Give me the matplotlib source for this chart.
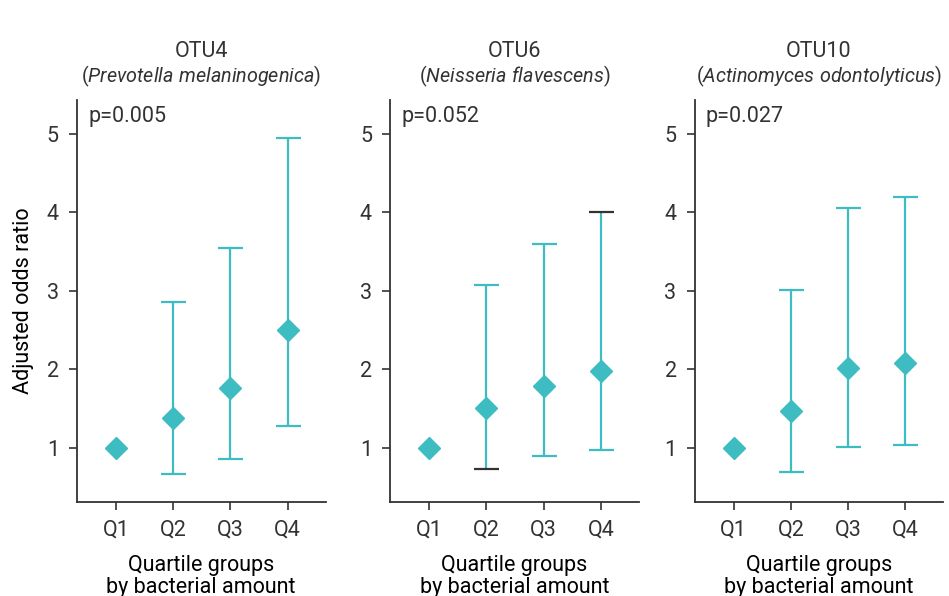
#!/usr/bin/env python3
"""Adjusted odds ratios by quartile of bacterial amount, three OTUs."""

import numpy as np
import matplotlib
matplotlib.use('Agg')
import matplotlib.pyplot as plt


TEAL = '#3dbdc2'
DARK = '#333333'

QUARTILES = ['Q1', 'Q2', 'Q3', 'Q4']
OTUS = ['OTU4', 'OTU6', 'OTU10']
SPECIES = ['Prevotella melaninogenica', 'Neisseria flavescens',
           'Actinomyces odontolyticus']
P_VALUES = ['p=0.005', 'p=0.052', 'p=0.027']

# point estimates and 95% CI bounds (Q1 is the reference group)
OR_OTU4 = [1.0, 1.38, 1.76, 2.50]
LOW_OTU4 = [np.nan, 0.67, 0.86, 1.28]
HIGH_OTU4 = [np.nan, 2.86, 3.55, 4.95]

OR_OTU6 = [1.0, 1.50, 1.79, 1.98]
LOW_OTU6 = [np.nan, 0.73, 0.89, 0.97]
HIGH_OTU6 = [np.nan, 3.08, 3.59, 4.01]

OR_OTU10 = [1.0, 1.47, 2.02, 2.08]
LOW_OTU10 = [np.nan, 0.69, 1.01, 1.03]
HIGH_OTU10 = [np.nan, 3.01, 4.06, 4.20]

# caps that are drawn dark in the original: (panel, quartile, 'lower'/'upper')
DARK_CAPS = [(1, 1, 'lower'), (1, 3, 'upper')]

plt.rcParams['font.family'] = ['Roboto', 'DejaVu Sans']
plt.rcParams['mathtext.fontset'] = 'custom'
plt.rcParams['mathtext.rm'] = 'Roboto'
plt.rcParams['mathtext.it'] = 'Roboto:italic'
plt.rcParams['text.color'] = DARK

FS = 15.5

fig = plt.figure(figsize=(9.49, 5.96), dpi=100)

estimates = [OR_OTU4, OR_OTU6, OR_OTU10]
lows = [LOW_OTU4, LOW_OTU6, LOW_OTU10]
highs = [HIGH_OTU4, HIGH_OTU6, HIGH_OTU10]
lefts = [0.081, 0.411, 0.732]

for i in range(3):
    ax = fig.add_axes([lefts[i], 0.158, 0.262, 0.674])
    x = np.arange(1, len(QUARTILES) + 1)
    est = np.array(estimates[i])
    lo = np.array(lows[i])
    hi = np.array(highs[i])
    for j in range(len(x)):
        if np.isnan(lo[j]):
            continue
        _, caps, _ = ax.errorbar(x[j], est[j],
                                 yerr=[[est[j] - lo[j]], [hi[j] - est[j]]],
                                 fmt='none', ecolor=TEAL, elinewidth=1.6,
                                 capsize=9, capthick=1.6, zorder=2)
        for (p, q, which) in DARK_CAPS:
            if p == i and q == j:
                cap = caps[0 if which == 'lower' else 1]
                cap.set_markeredgecolor(DARK)
                cap.set_zorder(4)
    ax.plot(x, est, linestyle='none', marker='D', markersize=11,
            color=TEAL, zorder=3)

    ax.set_xlim(0.32, 4.66)
    ax.set_ylim(0.31, 5.43)
    ax.set_xticks(x)
    ax.set_xticklabels(QUARTILES)
    ax.set_yticks([1, 2, 3, 4, 5])
    for side in ('top', 'right'):
        ax.spines[side].set_visible(False)
    for side in ('left', 'bottom'):
        ax.spines[side].set_color(DARK)
        ax.spines[side].set_linewidth(1.3)
    ax.tick_params(colors=DARK, labelcolor=DARK, length=6, width=1.2,
                   labelsize=FS, pad=7)
    ax.set_xlabel('Quartile groups\nby bacterial amount', fontsize=FS,
                  labelpad=10, linespacing=1.05)
    if i == 0:
        ax.set_ylabel('Adjusted odds ratio', fontsize=FS, labelpad=9)

    ax.text(0.5, 1.12, OTUS[i], transform=ax.transAxes, ha='center',
            va='center', fontsize=FS)
    name = SPECIES[i].replace(' ', r'\ ')
    ax.text(0.5, 1.06, '($\\mathit{' + name + '}$)', transform=ax.transAxes,
            ha='center', va='center', fontsize=14.2)
    ax.text(0.045, 0.96, P_VALUES[i], transform=ax.transAxes, ha='left',
            va='center', fontsize=FS)

fig.savefig('out.png', dpi=100)
